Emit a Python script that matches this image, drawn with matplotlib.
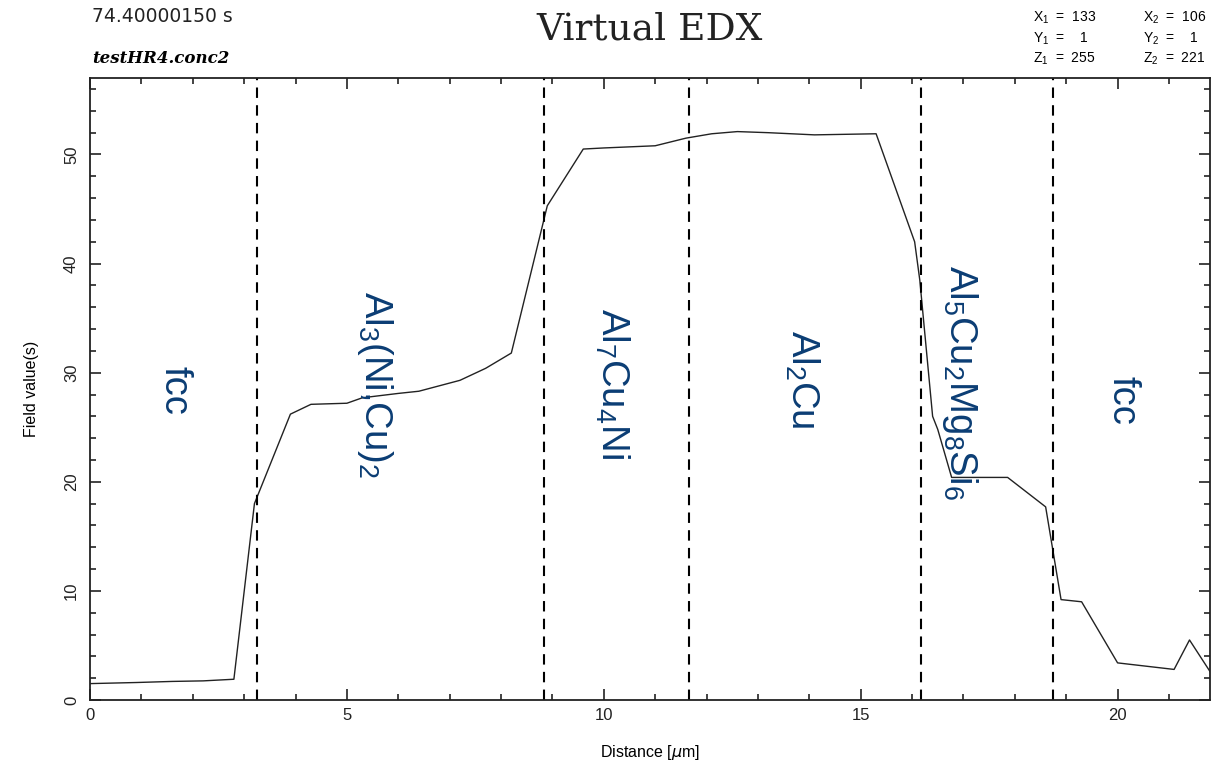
import matplotlib
matplotlib.use("Agg")
import matplotlib.pyplot as plt
from matplotlib import font_manager
from matplotlib.ticker import MultipleLocator

# profile
dist = [0, 0.9, 1.6, 2.2, 2.8, 3.2, 3.9, 4.3, 5.0, 5.3, 6.0, 6.4, 7.2, 7.7, 8.2,
        8.9, 9.6, 10.0, 11.0, 11.6, 12.1, 12.6, 13.2, 14.1, 15.3, 16.05, 16.15,
        16.4, 16.5, 16.77, 17.86, 18.6, 18.9, 19.3, 20.0, 21.1, 21.4, 21.8]
field = [1.5, 1.6, 1.7, 1.75, 1.9, 18.0, 26.2, 27.1, 27.2, 27.7, 28.1, 28.3, 29.3,
         30.4, 31.8, 45.3, 50.5, 50.6, 50.8, 51.5, 51.9, 52.1, 52.0, 51.8, 51.9,
         42.0, 38.5, 26.0, 24.8, 20.4, 20.4, 17.7, 9.2, 9.0, 3.4, 2.8, 5.5, 2.6]

boundaries = [3.25, 8.83, 11.65, 16.17, 18.74]

phase_x = [1.65, 5.55, 10.17, 13.87, 16.93, 20.1]
phase_y = [28.4, 28.9, 29.0, 29.4, 29.1, 27.5]
phase_names = ["fcc", r"$\mathrm{Al_3(Ni{,}Cu)_2}$", r"$\mathrm{Al_7Cu_4Ni}$",
               r"$\mathrm{Al_2Cu}$", r"$\mathrm{Al_5Cu_2Mg_8Si_6}$", "fcc"]

names = {f.name for f in font_manager.fontManager.ttflist}
lab_font = "Liberation Sans Narrow" if "Liberation Sans Narrow" in names else "Liberation Sans"
lab_size = 32 if lab_font == "Liberation Sans Narrow" else 27.5

plt.rcParams["font.family"] = ["Liberation Sans", "DejaVu Sans"]
plt.rcParams["mathtext.fontset"] = "custom"
plt.rcParams["mathtext.rm"] = lab_font

fig = plt.figure(figsize=(12.25, 7.66), dpi=100)
ax = fig.add_axes([0.0735, 0.0862, 0.9143, 0.8118])

ax.plot(dist, field, color="#222222", lw=1.0)
for b in boundaries:
    ax.axvline(b, color="black", lw=1.5, ls=(0, (5, 3.5)))

for x, y, s in zip(phase_x, phase_y, phase_names):
    ax.text(x, y, s, rotation=-90, ha="center", va="center", fontsize=lab_size,
            color="#0b3d74", family=lab_font)

ax.set_xlim(0, 21.8)
ax.set_ylim(0, 57)
ax.xaxis.set_major_locator(MultipleLocator(5))
ax.xaxis.set_minor_locator(MultipleLocator(1))
ax.yaxis.set_major_locator(MultipleLocator(10))
ax.yaxis.set_minor_locator(MultipleLocator(2))
ax.tick_params(which="both", direction="in", top=True, right=True, width=1.2,
               labelsize=12, colors="#222222")
ax.tick_params(which="major", length=8)
ax.tick_params(which="minor", length=4.5)
ax.tick_params(axis="x", pad=6)
ax.tick_params(axis="y", pad=8)
for lbl in ax.get_yticklabels():
    lbl.set_rotation(90)
    lbl.set_va("center")
for sp in ax.spines.values():
    sp.set_linewidth(1.3)
    sp.set_color("#222222")

ax.set_xlabel(r"Distance [$\mu$m]", fontsize=11.5, labelpad=14)
ax.set_ylabel("Field value(s)", fontsize=11.5, labelpad=18)

fig.text(0.53, 0.962, "Virtual EDX", ha="center", va="center", fontsize=27,
         family="DejaVu Serif", color="#222222")
fig.text(0.075, 0.978, "74.40000150 s", ha="left", va="center", fontsize=13.5,
         family="DejaVu Sans", color="#222222")
fig.text(0.075, 0.924, "testHR4.conc2", ha="left", va="center", fontsize=12,
         family="DejaVu Serif", style="italic", weight="bold")

info_rows = [("X", "133", "106"), ("Y", "1", "1"), ("Z", "255", "221")]
for i, (axn, v1, v2) in enumerate(info_rows):
    yy = 0.977 - i * 0.027
    fig.text(0.843, yy, r"$\mathrm{%s_1}$  =  %s" % (axn, v1.rjust(3)),
             fontsize=10, ha="left", va="center")
    fig.text(0.933, yy, r"$\mathrm{%s_2}$  =  %s" % (axn, v2.rjust(3)),
             fontsize=10, ha="left", va="center")

fig.savefig("out.png", dpi=100)
